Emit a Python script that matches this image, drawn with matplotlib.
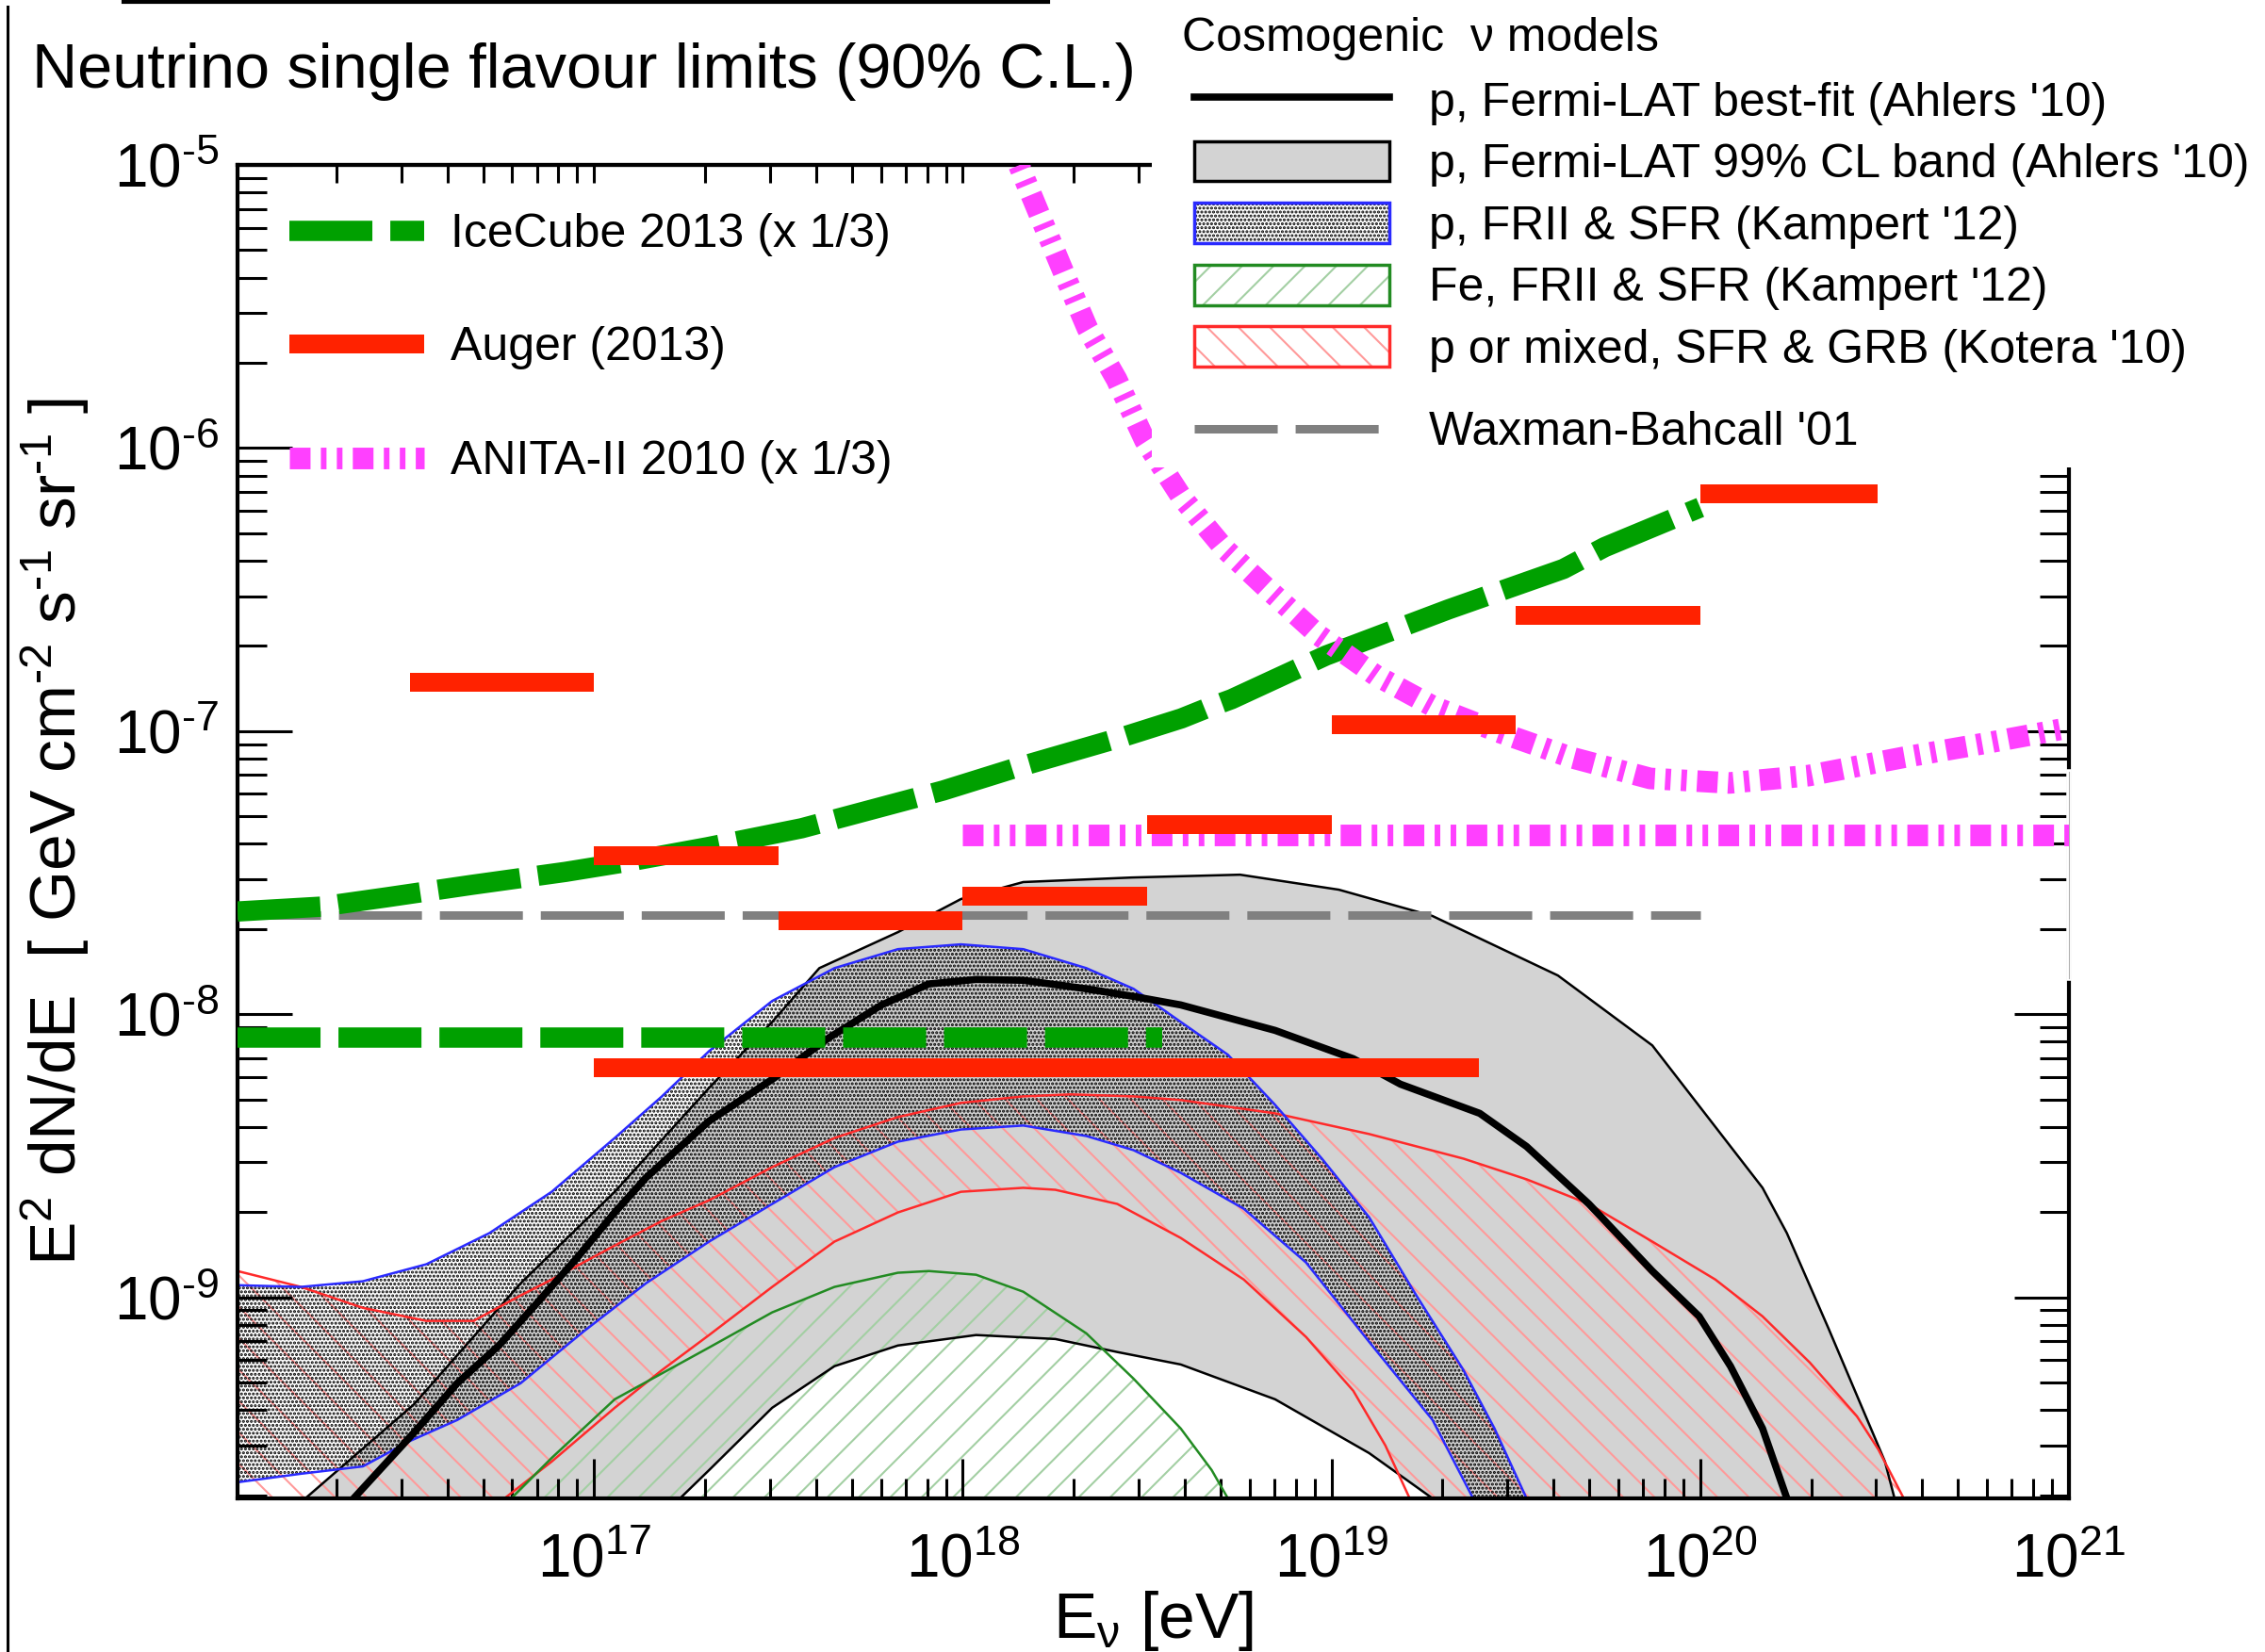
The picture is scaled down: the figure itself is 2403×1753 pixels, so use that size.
import numpy as np
import matplotlib
matplotlib.use("Agg")
import matplotlib.pyplot as plt
from matplotlib.lines import Line2D
from matplotlib.patches import Patch, Rectangle
import matplotlib.ticker as mticker

plt.rcParams['font.family'] = ['Liberation Sans', 'DejaVu Sans']
plt.rcParams['mathtext.fontset'] = 'custom'
plt.rcParams['mathtext.rm'] = 'Liberation Sans'
plt.rcParams['mathtext.it'] = 'Liberation Sans:italic'
plt.rcParams['mathtext.bf'] = 'Liberation Sans:bold'
plt.rcParams['mathtext.sf'] = 'Liberation Sans'
plt.rcParams['lines.scale_dashes'] = False
plt.rcParams['hatch.linewidth'] = 1.5

W, H = 2403, 1753
HY = '\u2010'  # short hyphen used in the exponents of the original

# ---------------- data: log10(E / eV) and log10(E^2 dN/dE / GeV cm^-2 s^-1 sr^-1) ----------------
auger_logE_lo = [16.5, 17.0, 17.5, 18.0, 18.5, 19.0, 19.5, 20.0]
auger_logE_hi = [17.0, 17.5, 18.0, 18.5, 19.0, 19.5, 20.0, 20.48]
auger_flux = [1.49e-7, 3.64e-8, 2.14e-8, 2.62e-8, 4.66e-8, 1.05e-7, 2.56e-7, 6.9e-7]
auger_int_logE = [17.0, 19.40]
auger_int_flux = 6.45e-9

icecube_logE = [16.033, 16.258, 16.437, 16.668, 16.923, 17.084, 17.307, 17.563, 17.946,
                18.143, 18.435, 18.593, 18.66, 18.729, 18.985, 19.317, 19.629, 19.741, 20.0]
icecube_logF = [-7.637, -7.62, -7.587, -7.543, -7.497, -7.463, -7.41, -7.343, -7.21,
                -7.13, -7.02, -6.955, -6.92, -6.887, -6.733, -6.57, -6.427, -6.35, -6.21]
icecube_int_logE = [16.033, 18.542]
icecube_int_flux = 8.3e-9

anita_logE = [18.12, 18.22, 18.279, 18.338, 18.417, 18.494, 18.593, 18.708, 18.826, 18.964,
              19.12, 19.276, 19.453, 19.65, 19.864, 20.079, 20.294, 20.55, 20.785, 20.98, 21.0]
anita_logF = [-4.9, -5.213, -5.397, -5.577, -5.757, -5.973, -6.173, -6.353, -6.497, -6.66,
              -6.803, -6.913, -7.003, -7.093, -7.167, -7.183, -7.157, -7.093, -7.04, -6.993, -6.99]
anita_int_logE = [18.0, 21.0]
anita_int_flux = 4.3e-8

wb_logE = [16.033, 20.0]
wb_flux = 2.24e-8

# Ahlers '10 best fit
ahl_logE = [16.30, 16.348, 16.512, 16.629, 16.742, 16.852, 16.954, 17.056, 17.141, 17.312, 17.483,
            17.637, 17.78, 17.908, 18.036, 18.164, 18.335, 18.463, 18.591, 18.847, 19.059,
            19.187, 19.402, 19.529, 19.698, 19.87, 19.997, 20.082, 20.169, 20.235, 20.26]
ahl_logF = [-9.87, -9.71, -9.477, -9.303, -9.17, -9.01, -8.86, -8.70, -8.577, -8.377, -8.23,
            -8.083, -7.967, -7.893, -7.877, -7.88, -7.91, -7.937, -7.967, -8.057, -8.157,
            -8.247, -8.35, -8.467, -8.67, -8.907, -9.067, -9.243, -9.463, -9.71, -9.80]
# Ahlers '10 99% CL band
ahlb_up_logE = [16.19, 16.217, 16.512, 16.801, 17.056, 17.312, 17.483, 17.611, 17.824, 17.995, 18.164,
                18.458, 18.752, 19.02, 19.274, 19.614, 19.87, 20.169, 20.235, 20.348, 20.501, 20.527, 20.54]
ahlb_up_logF = [-9.80, -9.71, -9.377, -8.95, -8.627, -8.26, -8.027, -7.837, -7.71, -7.593, -7.533,
                -7.517, -7.507, -7.56, -7.653, -7.863, -8.11, -8.613, -8.773, -9.11, -9.58, -9.71, -9.78]
ahlb_lo_logE = [17.20, 17.233, 17.312, 17.483, 17.652, 17.824, 18.036, 18.251, 18.419, 18.591,
                18.847, 19.102, 19.274, 19.31]
ahlb_lo_logF = [-9.80, -9.71, -9.61, -9.39, -9.243, -9.17, -9.133, -9.147, -9.193, -9.237,
                -9.36, -9.55, -9.71, -9.80]
# Kampert '12, proton, FRII & SFR
kp_up_logE = [16.033, 16.205, 16.373, 16.545, 16.716, 16.885, 17.056, 17.184, 17.312, 17.483, 17.652,
              17.824, 17.995, 18.164, 18.335, 18.463, 18.591, 18.719, 18.847, 18.974, 19.102, 19.23,
              19.358, 19.442, 19.529, 19.55]
kp_up_logF = [-8.957, -8.963, -8.943, -8.883, -8.773, -8.627, -8.437, -8.29, -8.13, -7.953, -7.837,
              -7.77, -7.753, -7.77, -7.837, -7.91, -8.027, -8.143, -8.32, -8.51, -8.717, -8.993,
              -9.257, -9.463, -9.71, -9.78]
kp_lo_logE = [16.033, 16.205, 16.373, 16.501, 16.629, 16.801, 16.972, 17.141, 17.312, 17.483, 17.652,
              17.824, 17.995, 18.164, 18.335, 18.463, 18.591, 18.762, 18.931, 19.102, 19.274, 19.384, 19.41]
kp_lo_logF = [-9.653, -9.623, -9.597, -9.507, -9.433, -9.303, -9.12, -8.95, -8.803, -8.67, -8.54,
              -8.45, -8.407, -8.393, -8.43, -8.48, -8.56, -8.687, -8.877, -9.157, -9.433, -9.71, -9.78]
# Kampert '12, iron, FRII & SFR
kfe_logE = [16.75, 16.775, 16.885, 17.056, 17.312, 17.483, 17.652, 17.824, 17.908, 18.036, 18.164,
            18.335, 18.463, 18.591, 18.675, 18.719, 18.73]
kfe_logF = [-9.78, -9.71, -9.567, -9.36, -9.177, -9.053, -8.963, -8.913, -8.907, -8.92, -8.98,
            -9.127, -9.287, -9.463, -9.61, -9.71, -9.75]
# Kotera '10, p or mixed, SFR & GRB
kot_up_logE = [16.033, 16.205, 16.373, 16.545, 16.673, 16.801, 16.885, 17.056, 17.184, 17.312, 17.483,
               17.652, 17.824, 17.995, 18.164, 18.292, 18.463, 18.591, 18.847, 19.102, 19.358, 19.529,
               19.698, 19.87, 20.041, 20.169, 20.297, 20.425, 20.483, 20.552, 20.57]
kot_up_logF = [-8.907, -8.963, -9.037, -9.083, -9.083, -8.993, -8.937, -8.817, -8.73, -8.657, -8.54,
               -8.437, -8.363, -8.313, -8.29, -8.283, -8.29, -8.303, -8.35, -8.423, -8.51, -8.583,
               -8.67, -8.803, -8.937, -9.067, -9.23, -9.42, -9.537, -9.71, -9.78]
kot_lo_logE = [16.73, 16.757, 16.885, 17.056, 17.184, 17.312, 17.483, 17.652, 17.824, 17.995, 18.164,
               18.251, 18.419, 18.591, 18.762, 18.931, 19.059, 19.146, 19.212, 19.23]
kot_lo_logF = [-9.80, -9.71, -9.58, -9.39, -9.257, -9.133, -8.963, -8.803, -8.70, -8.627, -8.613,
               -8.62, -8.67, -8.79, -8.937, -9.14, -9.33, -9.523, -9.71, -9.78]

title_text = "Neutrino single flavour limits (90% C.L.)"
exp_labels = ["IceCube 2013 (x 1/3)", "Auger (2013)", "ANITA-II 2010 (x 1/3)"]
model_title = "Cosmogenic  \u03bd models"
model_labels = ["p, Fermi-LAT best-fit (Ahlers '10)",
                "p, Fermi-LAT 99% CL band (Ahlers '10)",
                "p, FRII & SFR (Kampert '12)",
                "Fe, FRII & SFR (Kampert '12)",
                "p or mixed, SFR & GRB (Kotera '10)"]
wb_label = "Waxman-Bahcall '01"
xlabel_text = r'E$_{\mathrm{\nu}}$ [eV]'
ylabel_text = ('E$^2$ dN/dE  [ GeV cm$^{' + HY + '2}$ s$^{' + HY + '1}$ sr$^{' + HY + '1}$ ]')

# ---------------- styles ----------------
C_RED = '#ff2200'
C_MAG = '#ff40ff'
C_ICE = '#00a000'
C_WB = '#808080'
C_BAND = '#d3d3d3'
C_BLUE = '#2a2aff'
C_KOT = '#ff2a2a'
C_KOT_H = '#ff9a9a'
C_FE = '#228b22'
C_FE_H = '#a3cfa3'

DASH = (63.4, 13.7)
ANITA_DASH = (15.8, 7.9, 4.3, 7.9, 4.3, 7.9)

fig = plt.figure(figsize=(W / 100, H / 100), dpi=100)
ax = fig.add_axes([252 / W, 1 - 1590 / H, 1943 / W, 1415 / H])
ax.set_xscale('log')
ax.set_yscale('log')
ax.set_xlim(10 ** 16.033, 1e21)
ax.set_ylim(10 ** -9.71, 1e-5)

P = lambda a: 10 ** np.asarray(a, dtype=float)
grid = np.linspace(15.9, 21.1, 2000)


def band(up_e, up_f, lo_e, lo_f, **kw):
    u = np.interp(grid, up_e, up_f, left=-12, right=-12)
    if lo_e is None:
        l = np.full_like(grid, -12.0)
    else:
        l = np.interp(grid, lo_e, lo_f, left=-12, right=-12)
    l = np.minimum(l, u)
    return ax.fill_between(P(grid), P(l), P(u), **kw)


# Fermi-LAT band (gray)
band(ahlb_up_logE, ahlb_up_logF, ahlb_lo_logE, ahlb_lo_logF, facecolor=C_BAND, edgecolor='none',
     linewidth=0, zorder=1)
# Kotera band (red hatch)
band(kot_up_logE, kot_up_logF, kot_lo_logE, kot_lo_logF, facecolor='none', edgecolor=C_KOT_H,
     linewidth=0, hatch='\\', zorder=1.2)
# Fe band (green hatch)
band(kfe_logE, kfe_logF, None, None, facecolor='none', edgecolor=C_FE_H,
     linewidth=0, hatch='/', zorder=1.3)
# Kampert p band (stipple)
band(kp_up_logE, kp_up_logF, kp_lo_logE, kp_lo_logF, facecolor='none', edgecolor='black',
     linewidth=0, hatch='....', zorder=1.4)

# boundary lines
for e, f in [(ahlb_up_logE, ahlb_up_logF), (ahlb_lo_logE, ahlb_lo_logF)]:
    ax.plot(P(e), P(f), color='black', lw=1.8, zorder=2)
for e, f in [(kot_up_logE, kot_up_logF), (kot_lo_logE, kot_lo_logF)]:
    ax.plot(P(e), P(f), color=C_KOT, lw=1.8, zorder=2.1)
for e, f in [(kp_up_logE, kp_up_logF), (kp_lo_logE, kp_lo_logF)]:
    ax.plot(P(e), P(f), color=C_BLUE, lw=1.8, zorder=2.2)
ax.plot(P(kfe_logE), P(kfe_logF), color=C_FE, lw=1.8, zorder=2.3)
bestfit, = ax.plot(P(ahl_logE), P(ahl_logF), color='black', lw=5.5, zorder=2.5)

# Waxman-Bahcall
wb_line, = ax.plot(P(wb_logE), [wb_flux, wb_flux], color=C_WB, lw=6.5, dashes=DASH,
                   dash_capstyle='butt', zorder=3)
# IceCube
ice_line, = ax.plot(P(icecube_logE), P(icecube_logF), color=C_ICE, lw=15.5, dashes=DASH,
                    dash_capstyle='butt', zorder=4)
ax.plot(P(icecube_int_logE), [icecube_int_flux] * 2, color=C_ICE, lw=15.5, dashes=DASH,
        dash_capstyle='butt', zorder=4)
# ANITA
anita_line, = ax.plot(P(anita_logE), P(anita_logF), color=C_MAG, lw=16.5, dashes=ANITA_DASH,
                      dash_capstyle='butt', zorder=4.5)
ax.plot(P(anita_int_logE), [anita_int_flux] * 2, color=C_MAG, lw=16.5, dashes=ANITA_DASH,
        dash_capstyle='butt', zorder=4.5)
# Auger
ax.hlines(auger_flux, P(auger_logE_lo), P(auger_logE_hi), colors=C_RED, lw=14.4,
          capstyle='butt', zorder=5)
ax.hlines([auger_int_flux], P(auger_int_logE[0]), P(auger_int_logE[1]), colors=C_RED, lw=14.4,
          capstyle='butt', zorder=5)
auger_proxy = Line2D([], [], color=C_RED, lw=14.4, solid_capstyle='butt')


# ---------------- axes styling ----------------
def dec_fmt(v, pos):
    if v <= 0:
        return ''
    e = int(round(np.log10(v)))
    s = str(e).replace('-', HY)
    return r'$\mathregular{10^{%s}}$' % s


for s in ax.spines.values():
    s.set_linewidth(3)
ax.xaxis.set_major_locator(mticker.LogLocator(base=10, numticks=20))
ax.xaxis.set_minor_locator(mticker.LogLocator(base=10, subs=np.arange(2, 10), numticks=50))
ax.yaxis.set_major_locator(mticker.LogLocator(base=10, numticks=20))
ax.yaxis.set_minor_locator(mticker.LogLocator(base=10, subs=np.arange(2, 10), numticks=50))
ax.xaxis.set_major_formatter(mticker.FuncFormatter(dec_fmt))
ax.yaxis.set_major_formatter(mticker.FuncFormatter(dec_fmt))
ax.xaxis.set_minor_formatter(mticker.NullFormatter())
ax.yaxis.set_minor_formatter(mticker.NullFormatter())
ax.tick_params(axis='x', which='major', direction='in', length=30, width=2.2, pad=26,
               labelsize=46, top=False)
ax.tick_params(axis='x', which='minor', direction='in', length=15, width=2.2, top=False)
ax.tick_params(axis='y', which='major', direction='in', length=42, width=2.2, pad=14,
               labelsize=46, right=True)
ax.tick_params(axis='y', which='minor', direction='in', length=22, width=2.2, right=True)

secax = ax.secondary_xaxis('top')
secax.xaxis.set_major_locator(mticker.LogLocator(base=10, numticks=20))
secax.xaxis.set_minor_locator(mticker.LogLocator(base=10, subs=np.arange(2, 10), numticks=50))
secax.xaxis.set_major_formatter(mticker.NullFormatter())
secax.xaxis.set_minor_formatter(mticker.NullFormatter())
secax.tick_params(which='both', direction='in', length=14, width=2.2, labeltop=False)
secax.spines['top'].set_linewidth(3)

ax.set_xlabel(xlabel_text, fontsize=50)
ax.xaxis.set_label_coords(0.5, -0.068)
ax.set_ylabel(ylabel_text, fontsize=50)
ax.yaxis.set_label_coords(-0.080, 0.5)

# right-spine artefact of the original
ax.plot([1, 1], [(1590 - 1038) / 1415, (1590 - 819) / 1415], transform=ax.transAxes,
        color='white', lw=4, clip_on=False, zorder=3)
ax.plot([1, 1], [(1590 - 1038) / 1415, (1590 - 819) / 1415], transform=ax.transAxes,
        color='#b0b0b0', lw=0.8, clip_on=False, zorder=3.1)

# legend 1 (experiments)
leg1 = ax.legend([ice_line, auger_proxy, anita_line], exp_labels, loc='upper left',
                 bbox_to_anchor=(307 / W, 1 - 226 / H), bbox_transform=fig.transFigure,
                 frameon=False, fontsize=36, handlelength=2.86, handletextpad=0.56,
                 labelspacing=1.49, borderpad=0, borderaxespad=0)

# white box of the model legend, covering the frame
fig.add_artist(Rectangle((1222 / W, 1 - 496 / H), 1 - 1222 / W, 496 / H, transform=fig.transFigure,
                         facecolor='white', edgecolor='none', zorder=2))

model_handles = [
    bestfit,
    Patch(facecolor=C_BAND, edgecolor='black', lw=2.5),
    (Patch(facecolor='white', edgecolor='black', hatch='....', lw=0),
     Patch(facecolor='none', edgecolor=C_BLUE, lw=2.5)),
    (Patch(facecolor='white', edgecolor=C_FE_H, hatch='/', lw=0),
     Patch(facecolor='none', edgecolor=C_FE, lw=2.5)),
    (Patch(facecolor='white', edgecolor=C_KOT_H, hatch='\\', lw=0),
     Patch(facecolor='none', edgecolor=C_KOT, lw=2.5)),
]
fig.text(1254 / W, 1 - 41 / H, model_title, fontsize=36, ha='left', va='center', zorder=6)
fig.legend(model_handles, model_labels, loc='upper left',
           bbox_to_anchor=(1267 / W, 1 - 84 / H), bbox_transform=fig.transFigure,
           frameon=False, fontsize=36,
           handlelength=4.14, handleheight=0.94, handletextpad=0.84, labelspacing=0.34,
           borderpad=0, borderaxespad=0)
fig.legend([wb_line], [wb_label], loc='upper left',
           bbox_to_anchor=(1267 / W, 1 - 436 / H), bbox_transform=fig.transFigure,
           frameon=False, fontsize=36, handlelength=4.14, handletextpad=0.84,
           borderpad=0, borderaxespad=0)

# title and figure-border artefacts
fig.text(34 / W, 1 - 93 / H, title_text, fontsize=48, ha='left', va='baseline')
fig.add_artist(Line2D([131 / W, 1112 / W], [1 - 1.5 / H] * 2, color='black', lw=3,
                      transform=fig.transFigure))
fig.add_artist(Line2D([8 / W, 8 / W], [1 - 7 / H, 0], color='black', lw=2.2,
                      transform=fig.transFigure))

fig.savefig('out.png', dpi=100)
